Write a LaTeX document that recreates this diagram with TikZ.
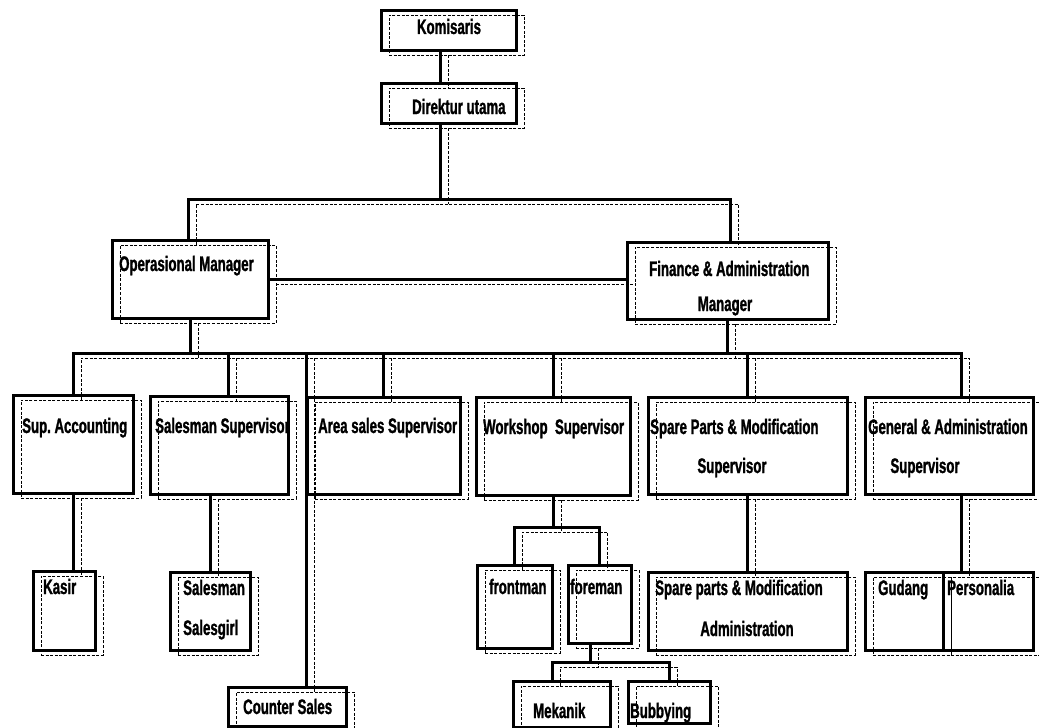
\documentclass[tikz,border=0pt]{standalone}
\usepackage{fontspec}
\newfontfamily\chartfont{Liberation Sans}[FakeStretch=0.63, BoldFeatures={FakeBold=1.2}]
\begin{document}
\begin{tikzpicture}[x=1pt,y=-1pt,
  sh/.style={preaction={draw=black, line width=0.8pt, dash pattern=on 3pt off 1.6pt, transform canvas={shift={(8pt,-5pt)}}}},
  box/.style={draw=black, line width=3pt, sh, inner sep=0pt, outer sep=0pt, anchor=north west},
  conn/.style={draw=black, line width=3pt, line join=miter, sh},
  lbl/.style={inner sep=0pt, font=\chartfont\bfseries\fontsize{21}{23}\selectfont}]
\fill[white] (0,0) rectangle (1039,728);
\useasboundingbox (0,0) rectangle (1039,728);
\newcommand\orgbox[5]{\node[box, minimum width={(#4-#2)*1pt}, minimum height={(#5-#3)*1pt}] (#1) at (#2,#3) {};}
% boxes
\orgbox{kom}{381}{10}{516}{50}
\orgbox{dir}{381}{83}{516}{123}
\orgbox{om}{112}{240}{268}{318}
\orgbox{fam}{627}{242}{828}{319}
\orgbox{sa}{13}{395}{133}{493}
\orgbox{ss}{150}{396}{288}{494}
\orgbox{as}{307}{397}{460}{494}
\orgbox{ws}{476}{397}{630}{495}
\orgbox{sp}{648}{397}{847}{494}
\orgbox{ga}{865}{397}{1033}{494}
\orgbox{kasir}{33}{571}{95}{650}
\orgbox{sales}{170}{572}{250}{650}
\orgbox{cs}{228}{687}{346}{726}
\orgbox{front}{477}{565}{552}{648}
\orgbox{fore}{568}{565}{631}{643}
\orgbox{spa}{648}{572}{847}{650}
\orgbox{gud}{865}{572}{943}{650}
\orgbox{pers}{943}{572}{1033}{650}
\orgbox{mek}{513}{681}{610}{727}
\orgbox{bub}{628}{681}{710}{723}
% labels
\node[lbl, anchor=base] (kom-t) at (449,34) {Komisaris};
\node[lbl, anchor=base west] (dir-t) at (412,114) {Direktur utama};
\node[lbl, anchor=base west] (om-t) at (119,271) {Operasional Manager};
\node[lbl, anchor=base west] (fam-t1) at (649,276) {Finance \& Administration};
\node[lbl, anchor=base] (fam-t2) at (725,311) {Manager};
\node[lbl, anchor=base west] (sa-t) at (22,433) {Sup.\ Accounting};
\node[lbl, anchor=base west] (ss-t) at (155,433) {Salesman Supervisor};
\node[lbl, anchor=base west] (as-t) at (318,433) {Area sales Supervisor};
\node[lbl, anchor=base west] (ws-t) at (483,434) {Workshop\ \ Supervisor};
\node[lbl, anchor=base west] (sp-t1) at (650,434) {Spare Parts \& Modification};
\node[lbl, anchor=base] (sp-t2) at (732,473) {Supervisor};
\node[lbl, anchor=base west] (ga-t1) at (868,434) {General \& Administration};
\node[lbl, anchor=base] (ga-t2) at (925,473) {Supervisor};
\node[lbl, anchor=base west] (kasir-t) at (43,594) {Kasir};
\node[lbl, anchor=base west] (sales-t1) at (183,595) {Salesman};
\node[lbl, anchor=base west] (sales-t2) at (183,635) {Salesgirl};
\node[lbl, anchor=base west] (cs-t) at (243,714) {Counter Sales};
\node[lbl, anchor=base west] (front-t) at (489,594) {frontman};
\node[lbl, anchor=base west] (fore-t) at (570,594) {foreman};
\node[lbl, anchor=base west] (spa-t1) at (655,595) {Spare parts \& Modification};
\node[lbl, anchor=base] (spa-t2) at (747,636) {Administration};
\node[lbl, anchor=base west] (gud-t) at (878,595) {Gudang};
\node[lbl, anchor=base west] (pers-t) at (947,595) {Personalia};
\node[lbl, anchor=base west] (mek-t) at (533,718) {Mekanik};
\node[lbl, anchor=base west] (bub-t) at (630,718) {Bubbying};
% junction coordinates
\coordinate (b1L) at (188,199);
\coordinate (b1M) at (440,199);
\coordinate (b1R) at (730,199);
\coordinate (b2L) at (73,353);
\coordinate (b2R) at (961,353);
\coordinate (dss) at (228,353);
\coordinate (dcs) at (306,353);
\coordinate (b3) at (553,527);
\coordinate (b4) at (590,662);
\coordinate (b4L) at (552,662);
\coordinate (b4R) at (669,662);
% connectors
\draw[conn] (kom.south -| b1M) -- (dir.north -| b1M);
\draw[conn] (dir.south -| b1M) -- (b1M);
\draw[conn] (om.north -| b1L) -- (b1L) -- (b1R) -- (fam.north -| b1R);
\draw[conn] (om.east) -- (om.east -| fam.west);
\draw[conn] (om.south) -- (om.south |- b2L);
\draw[conn] (fam.south) -- (fam.south |- b2L);
\draw[conn] (sa.north -| b2L) -- (b2L) -- (b2R) -- (ga.north -| b2R);
\draw[conn] (dss) -- (ss.north -| dss);
\draw[conn] (dcs) -- (cs.north -| dcs);
\draw[conn] (as.north |- b2L) -- (as.north);
\draw[conn] (ws.north |- b2L) -- (ws.north);
\draw[conn] (sp.north |- b2L) -- (sp.north);
\draw[conn] (sa.south) -- (sa.south |- kasir.north);
\draw[conn] (ss.south -| sales.north) -- (sales.north);
\draw[conn] (ws.south) -- (ws.south |- b3);
\draw[conn] (front.north) -- (front.north |- b3) -| (fore.north);
\draw[conn] (fore.south -| b4) -- (b4);
\draw[conn] (mek.north -| b4L) -- (b4L) -- (b4R) -- (bub.north -| b4R);
\draw[conn] (sp.south) -- (spa.north);
\draw[conn] (ga.south -| b2R) -- (pers.north -| b2R);
\end{tikzpicture}
\end{document}
